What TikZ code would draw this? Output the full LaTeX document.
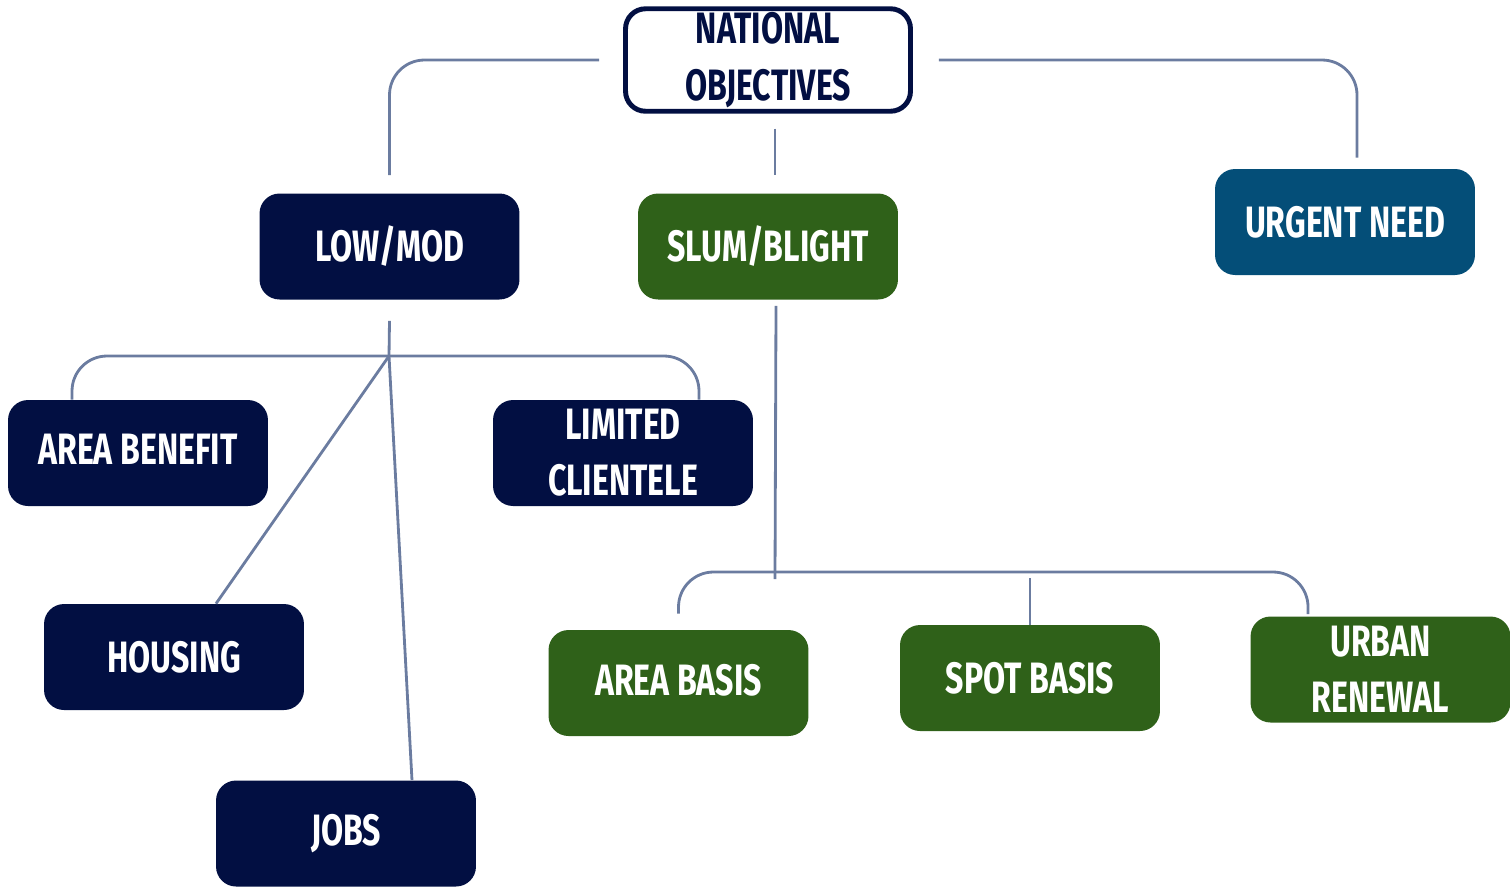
\documentclass[tikz,border=0pt]{standalone}
\usepackage{fontspec}
\newfontfamily\headfont[FakeStretch=0.73]{Fira Sans}
\usetikzlibrary{positioning, calc}
\definecolor{navy}{HTML}{020F42}
\definecolor{leaf}{HTML}{2F6119}
\definecolor{sea}{HTML}{044E78}
\definecolor{linkColor}{HTML}{6B7CA0}
\tikzstyle{obj}=[rectangle, rounded corners=0.4cm, align=center, inner sep=0pt,
minimum width=5.2cm, minimum height=2.12cm, text=white,
font=\headfont\bfseries\fontsize{25}{32}\selectfont]
\tikzstyle{lowBox}=[obj, fill=navy]
\tikzstyle{slumBox}=[obj, fill=leaf]
\tikzstyle{urgentBox}=[obj, fill=sea]
\tikzstyle{rootBox}=[obj, fill=white, draw=navy, line width=2.8pt, text=navy,
minimum width=5.7cm, minimum height=2.05cm]
\tikzstyle{link}=[draw=linkColor, line width=1.6pt, rounded corners=0.7cm]
\newcommand{\lift}[1]{\raisebox{0.14cm}{#1}}

\begin{document}
\begin{tikzpicture}[x=0.02cm, y=-0.02cm]
      \useasboundingbox (0,0) rectangle (1510,887);
      \node(national) [rootBox] at (768,60) {NATIONAL\\OBJECTIVES};
      \node(lowmod) [lowBox] at (389.5,246.5) {LOW/MOD};
      \node(slum) [slumBox] at (768,246.5) {SLUM/BLIGHT};
      \node(urgent) [urgentBox] at (1345,222) {URGENT NEED};
      \node(areabenefit) [lowBox] at (138,453) {\lift{AREA BENEFIT}};
      \node(limited) [lowBox] at (623,453) {LIMITED\\CLIENTELE};
      \node(housing) [lowBox] at (174,657) {HOUSING};
      \node(jobs) [lowBox] at (346,833.5) {JOBS};
      \node(areabasis) [slumBox] at (678.5,683) {\lift{AREA BASIS}};
      \node(spotbasis) [slumBox] at (1030,678) {SPOT BASIS};
      \node(urban) [slumBox] at (1380.5,669.5) {URBAN\\RENEWAL};
      \coordinate(lmhub) at (389,356);
      \coordinate(slhub) at (775,572);
      % top level
      \draw [link] ([xshift=-0.48cm]national.west) -| ([yshift=0.36cm]lowmod.north);
      \draw [link] ([xshift=0.52cm]national.east) -| ([xshift=0.24cm, yshift=0.22cm]urgent.north);
      \draw [link] ([xshift=0.14cm, yshift=-0.3cm]national.south) -- ([xshift=0.14cm, yshift=0.36cm]slum.north);
      % low/mod branch
      \draw [link] ([yshift=-0.42cm]lowmod.south) -- (lmhub);
      \draw [link] ([xshift=-1.32cm]areabenefit.north) |- (lmhub) -| ([xshift=1.52cm]limited.north);
      \draw [link] (lmhub) -- ([xshift=0.84cm]housing.north);
      \draw [link] (lmhub) -- ([xshift=1.32cm]jobs.north);
      % slum/blight branch
      \draw [link] ([xshift=0.16cm, yshift=-0.12cm]slum.south) -- ([yshift=-0.14cm]slhub);
      \draw [link] ([yshift=0.32cm]areabasis.north) |- (slhub) -| ([xshift=-1.45cm, yshift=0.04cm]urban.north);
      \draw [link] (spotbasis.north) -- ([yshift=-0.12cm]spotbasis.north |- slhub);
    \end{tikzpicture}
\end{document}
